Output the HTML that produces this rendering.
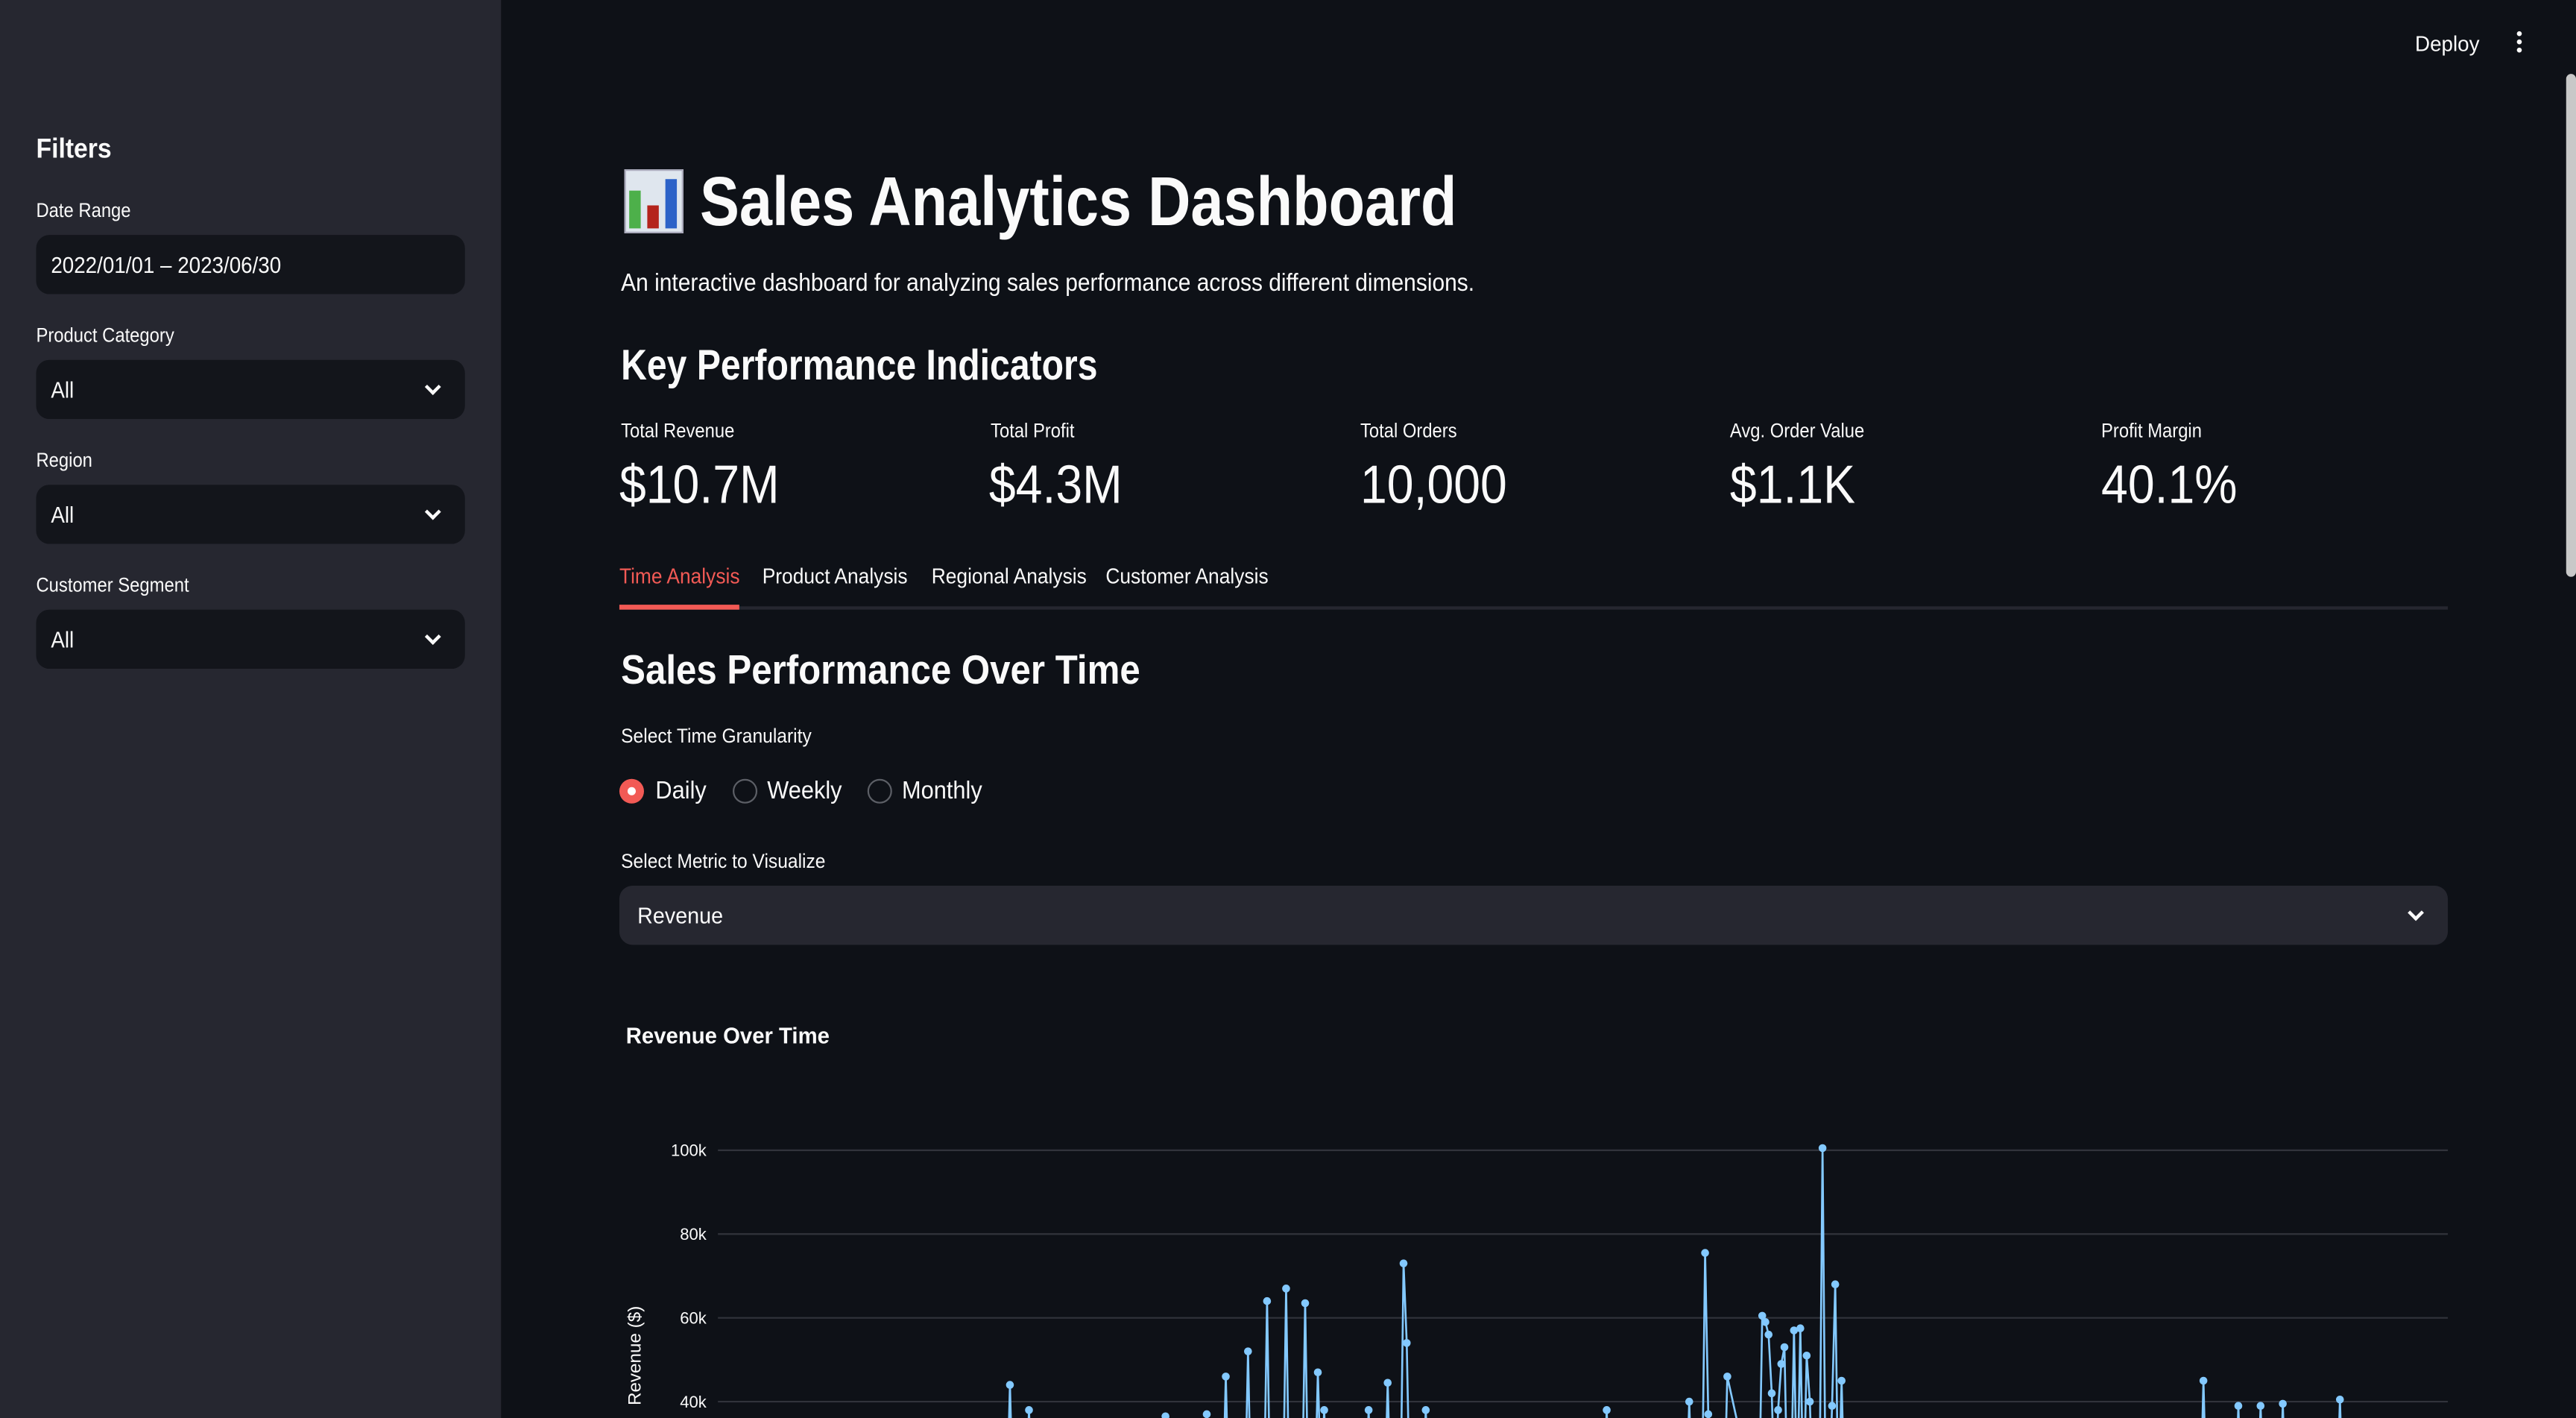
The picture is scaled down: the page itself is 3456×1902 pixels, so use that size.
<!DOCTYPE html>
<html><head><meta charset="utf-8">
<style>
html,body{margin:0;padding:0;background:#0e1117;overflow:hidden;}
body{width:3456px;height:1902px;position:relative;}
#wrap{position:absolute;left:0;top:0;width:1568px;height:863px;overflow:hidden;transform:scale(2.204082);transform-origin:0 0;font-family:"Liberation Sans",sans-serif;color:#fafafa;background:#0e1117;}
.abs{position:absolute;white-space:nowrap;}
.sx{display:inline-block;transform:scaleX(0.9);transform-origin:0 50%;}
.lbl{font-size:12px;line-height:14px;}
.box{position:absolute;left:22px;width:261px;height:36px;border-radius:8px;background:#13151b;}
.box span{position:absolute;left:9px;top:10px;font-size:14px;}
.chev{position:absolute;width:5px;height:5px;border-right:2px solid #fafafa;border-bottom:2px solid #fafafa;transform:rotate(45deg);}
</style></head><body>
<div id="wrap">
<div class="abs" style="left:0;top:0;width:305px;height:863px;background:#262730;"></div>
<div class="abs" style="left:22px;top:81px;font-size:17px;font-weight:bold;"><span class="sx">Filters</span></div>
<div class="abs lbl" style="left:22px;top:121px;"><span class="sx">Date Range</span></div>
<div class="box" style="top:143px;"><span class="sx">2022/01/01 – 2023/06/30</span></div>
<div class="abs lbl" style="left:22px;top:197px;"><span class="sx">Product Category</span></div>
<div class="box" style="top:219px;"><span class="sx">All</span><div class="chev" style="left:238px;top:13px;"></div></div>
<div class="abs lbl" style="left:22px;top:273px;"><span class="sx">Region</span></div>
<div class="box" style="top:295px;"><span class="sx">All</span><div class="chev" style="left:238px;top:13px;"></div></div>
<div class="abs lbl" style="left:22px;top:349px;"><span class="sx">Customer Segment</span></div>
<div class="box" style="top:371px;"><span class="sx">All</span><div class="chev" style="left:238px;top:13px;"></div></div>

<div class="abs" style="left:1470px;top:19px;font-size:13px;"><span class="sx" style="transform:scaleX(0.97)">Deploy</span></div>
<div class="abs" style="left:1532px;top:19px;width:4px;">
<div style="width:3px;height:3px;border-radius:50%;background:#fafafa;margin-bottom:2px"></div><div style="width:3px;height:3px;border-radius:50%;background:#fafafa;margin-bottom:2px"></div><div style="width:3px;height:3px;border-radius:50%;background:#fafafa"></div></div>
<div class="abs" style="left:1562px;top:45px;width:6px;height:306px;background:#c8c8c8;border-radius:3px;"></div>

<div class="abs" style="left:380px;top:103px;width:34px;height:37px;background:#dfe6ee;border:1px solid #aab;">
<div style="position:absolute;left:2px;bottom:2px;width:7px;height:23px;background:#4db04a"></div>
<div style="position:absolute;left:13px;bottom:2px;width:7px;height:14px;background:#b4241c"></div>
<div style="position:absolute;left:24px;bottom:2px;width:7px;height:30px;background:#2c62c8"></div></div>
<div class="abs" style="left:426px;top:99px;font-size:42px;font-weight:bold;line-height:48px;"><span class="sx" style="transform:scaleX(0.857)">Sales Analytics Dashboard</span></div>
<div class="abs" style="left:378px;top:164px;font-size:15px;"><span class="sx" style="transform:scaleX(0.906)">An interactive dashboard for analyzing sales performance across different dimensions.</span></div>
<div class="abs" style="left:378px;top:206px;font-size:26px;font-weight:bold;line-height:32px;"><span class="sx" style="transform:scaleX(0.84)">Key Performance Indicators</span></div>

<div class="abs lbl" style="left:378px;top:255px;"><span class="sx">Total Revenue</span></div>
<div class="abs" style="left:377px;top:276px;font-size:33px;line-height:38px;"><span class="sx" style="transform:scaleX(0.885)">$10.7M</span></div>
<div class="abs lbl" style="left:603px;top:255px;"><span class="sx">Total Profit</span></div>
<div class="abs" style="left:602px;top:276px;font-size:33px;line-height:38px;"><span class="sx" style="transform:scaleX(0.885)">$4.3M</span></div>
<div class="abs lbl" style="left:828px;top:255px;"><span class="sx">Total Orders</span></div>
<div class="abs" style="left:828px;top:276px;font-size:33px;line-height:38px;"><span class="sx" style="transform:scaleX(0.885)">10,000</span></div>
<div class="abs lbl" style="left:1053px;top:255px;"><span class="sx">Avg. Order Value</span></div>
<div class="abs" style="left:1053px;top:276px;font-size:33px;line-height:38px;"><span class="sx" style="transform:scaleX(0.885)">$1.1K</span></div>
<div class="abs lbl" style="left:1279px;top:255px;"><span class="sx">Profit Margin</span></div>
<div class="abs" style="left:1279px;top:276px;font-size:33px;line-height:38px;"><span class="sx" style="transform:scaleX(0.885)">40.1%</span></div>

<div class="abs" style="left:377px;top:343px;font-size:13px;color:#f25a55;"><span class="sx" style="transform:scaleX(0.92)">Time Analysis</span></div>
<div class="abs" style="left:464px;top:343px;font-size:13px;"><span class="sx" style="transform:scaleX(0.92)">Product Analysis</span></div>
<div class="abs" style="left:567px;top:343px;font-size:13px;"><span class="sx" style="transform:scaleX(0.92)">Regional Analysis</span></div>
<div class="abs" style="left:673px;top:343px;font-size:13px;"><span class="sx" style="transform:scaleX(0.92)">Customer Analysis</span></div>
<div class="abs" style="left:377px;top:369px;width:1113px;height:2px;background:#262730;"></div>
<div class="abs" style="left:377px;top:368px;width:73px;height:3px;background:#f25a55;"></div>

<div class="abs" style="left:378px;top:393px;font-size:25px;font-weight:bold;line-height:30px;"><span class="sx" style="transform:scaleX(0.893)">Sales Performance Over Time</span></div>
<div class="abs lbl" style="left:378px;top:441px;"><span class="sx" style="transform:scaleX(0.93)">Select Time Granularity</span></div>
<div class="abs" style="left:377px;top:474px;width:15px;height:15px;border-radius:50%;background:#f25a55;"><div style="position:absolute;left:5px;top:5px;width:5px;height:5px;border-radius:50%;background:#fff"></div></div>
<div class="abs" style="left:399px;top:473px;font-size:15px;"><span class="sx" style="transform:scaleX(0.93)">Daily</span></div>
<div class="abs" style="left:446px;top:474px;width:13px;height:13px;border-radius:50%;border:1px solid #5c5f66;"></div>
<div class="abs" style="left:467px;top:473px;font-size:15px;"><span class="sx" style="transform:scaleX(0.93)">Weekly</span></div>
<div class="abs" style="left:528px;top:474px;width:13px;height:13px;border-radius:50%;border:1px solid #5c5f66;"></div>
<div class="abs" style="left:549px;top:473px;font-size:15px;"><span class="sx" style="transform:scaleX(0.93)">Monthly</span></div>
<div class="abs lbl" style="left:378px;top:517px;"><span class="sx" style="transform:scaleX(0.93)">Select Metric to Visualize</span></div>
<div class="abs" style="left:377px;top:539px;width:1113px;height:36px;border-radius:8px;background:#262730;">
<span class="abs" style="left:11px;top:10px;font-size:14px;"><span class="sx" style="transform:scaleX(0.93)">Revenue</span></span><div class="chev" style="left:1090px;top:13px;"></div></div>

<div class="abs" style="left:381px;top:622px;font-size:14px;font-weight:bold;"><span class="sx" style="transform:scaleX(0.95)">Revenue Over Time</span></div>
<svg class="abs" id="chart" style="left:0;top:0;" width="1568" height="863"></svg>
</div>
<script>
const yTicks=[40000,60000,80000,100000];
const yTickLabels=["40k","60k","80k","100k"];
const days=[0,91,92,93,97,98,99,140,141,142,153,154,155,159,160,161,166,167,168,172,173,174,178,179,180,184,185,186,188,189,190,191,192,204,205,206,210,211,212,215,216,217,218,222,223,224,279,280,281,305,306,307,310,311,312,316,317,318,327,328,329,330,331,332,333,334,335,336,337,338,339,340,341,342,343,344,345,347,348,349,350,351,352,353,354,355,467,468,469,478,479,480,485,486,487,492,493,494,510,511,512,545];
const revenue=[15000,15000,44000,15000,15000,38000,15000,15000,36500,15000,15000,37000,15000,15000,46000,15000,15000,52000,15000,15000,64000,15000,15000,67000,15000,15000,63500,15000,15000,47000,20000,38000,15000,15000,38000,15000,15000,44500,15000,15000,73000,54000,15000,15000,38000,15000,15000,38000,15000,15000,40000,15000,15000,75500,37000,15000,15000,46000,15000,15000,60500,59000,56000,42000,15000,38000,49000,53000,15000,15000,57000,15000,57500,15000,51000,40000,15000,15000,100500,15000,15000,39000,68000,15000,45000,15000,15000,45000,15000,15000,39000,15000,15000,39000,15000,15000,39500,15000,15000,40500,15000,15000];
const svg=document.getElementById('chart');const NS='http://www.w3.org/2000/svg';
const X0=437,X1=1490,D0=0,D1=545;
const xs=d=>X0+(d-D0)/(D1-D0)*(X1-X0);
const ys=v=>853-(v-40000)/20000*51;
function mk(t,a){const e=document.createElementNS(NS,t);for(const k in a)e.setAttribute(k,a[k]);svg.appendChild(e);return e;}
const clip=mk('clipPath',{id:'pc'});const cr=document.createElementNS(NS,'rect');cr.setAttribute('x',X0-5);cr.setAttribute('y',640);cr.setAttribute('width',X1-X0+10);cr.setAttribute('height',223);clip.appendChild(cr);
yTicks.forEach((v,i)=>{
const g=mk('line',{x1:X0,x2:X1,y1:ys(v),y2:ys(v),stroke:'#31333b','stroke-width':1});


const t=mk('text',{x:430,y:ys(v)+3.5,'text-anchor':'end','font-size':'10','fill':'#fafafa','font-family':'Liberation Sans, sans-serif'});
t.textContent=yTickLabels[i];


});
const at=mk('text',{x:0,y:0,transform:'translate(390,825) rotate(-90)','text-anchor':'middle','font-size':'11','fill':'#fafafa','font-family':'Liberation Sans, sans-serif'});
at.textContent='Revenue ($)';


const g=mk('g',{'clip-path':'url(#pc)'});
let d='';days.forEach((dd,i)=>{d+=(i?'L':'M')+xs(dd).toFixed(2)+','+ys(revenue[i]).toFixed(2);});
const p=document.createElementNS(NS,'path');p.setAttribute('d',d);p.setAttribute('fill','none');p.setAttribute('stroke','#83c9ff');p.setAttribute('stroke-width','1.2');


g.appendChild(p);
days.forEach((dd,i)=>{const c=document.createElementNS(NS,'circle');c.setAttribute('cx',xs(dd));c.setAttribute('cy',ys(revenue[i]));c.setAttribute('r',2.4);c.setAttribute('fill','#83c9ff');


g.appendChild(c);});
</script>
</body></html>
